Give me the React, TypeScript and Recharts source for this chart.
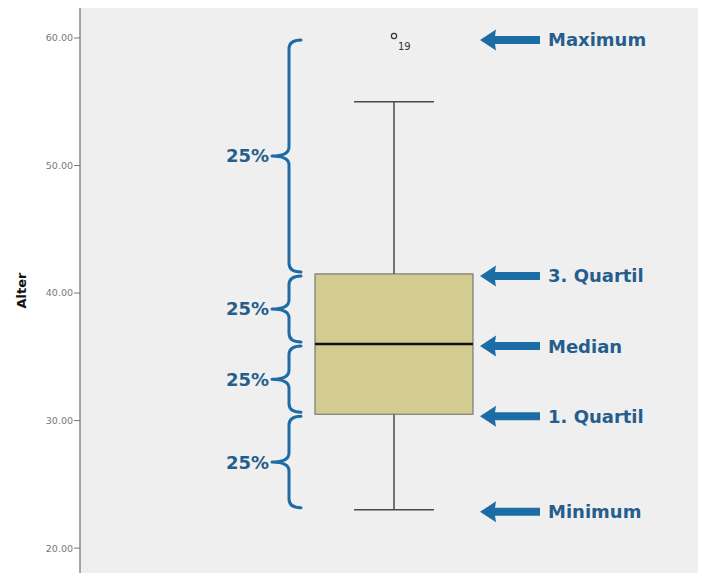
import React from 'react';
import {
  ComposedChart,
  Bar,
  Scatter,
  XAxis,
  YAxis,
  CartesianGrid,
  ReferenceArea,
  ReferenceDot,
} from 'recharts';

// ---- data ----
const categories = ['Alter'];
const minValues = [23];
const q1Values = [30.5];
const medianValues = [36];
const q3Values = [41.5];
const maxValues = [55];
const outlierValues = [60];
const outlierIds = ['19'];
const yTicks = [20, 30, 40, 50, 60];
const yDomain = [18.05, 62.35];
const markerLabels = ['Maximum', '3. Quartil', 'Median', '1. Quartil', 'Minimum'];
const markerValues = [outlierValues[0], q3Values[0], medianValues[0], q1Values[0], minValues[0]];
const braceLabel = '25%';
const braceSpans = [
  [outlierValues[0], q3Values[0]],
  [q3Values[0], medianValues[0]],
  [medianValues[0], q1Values[0]],
  [q1Values[0], minValues[0]],
];

const data = categories.map((name, i) => ({
  name,
  box: [q1Values[i], q3Values[i]],
  q1: q1Values[i],
  q3: q3Values[i],
  min: minValues[i],
  max: maxValues[i],
  median: medianValues[i],
  outlier: outlierValues[i],
  id: outlierIds[i],
}));

const BLUE = '#1c6ca6';
const TEXT_BLUE = '#255e8c';
const LABEL_FONT = '"DejaVu Sans", sans-serif';

const BoxShape = (props: any) => {
  const { x, y, width, height, payload } = props;
  const { q1, q3, min, max, median } = payload;
  const ppu = height / (q3 - q1);
  const toY = (v: number) => y + (q3 - v) * ppu;
  const cx = x + width / 2;
  const cap = 40;
  const wStroke = '#4a4a4a';
  return (
    <g>
      <line x1={cx} x2={cx} y1={toY(max)} y2={y} stroke={wStroke} strokeWidth={1.5} />
      <line x1={cx} x2={cx} y1={y + height} y2={toY(min)} stroke={wStroke} strokeWidth={1.5} />
      <line x1={cx - cap} x2={cx + cap} y1={toY(max)} y2={toY(max)} stroke={wStroke} strokeWidth={1.5} />
      <line x1={cx - cap} x2={cx + cap} y1={toY(min)} y2={toY(min)} stroke={wStroke} strokeWidth={1.5} />
      <rect x={x} y={y} width={width} height={height} fill="#d3cc90" stroke="#666" strokeWidth={1} />
      <line x1={x} x2={x + width} y1={toY(median)} y2={toY(median)} stroke="#111" strokeWidth={2.5} />
    </g>
  );
};

const OutlierShape = (props: any) => {
  const { cx, cy, payload } = props;
  return (
    <g>
      <circle cx={cx} cy={cy - 2} r={2.6} fill="none" stroke="#333" strokeWidth={1.2} />
      <text x={cx + 4} y={cy + 12} fontSize={10} fill="#333" fontFamily="'DejaVu Sans', sans-serif">
        {payload.id}
      </text>
    </g>
  );
};

const makeArrow = (label: string) => (props: any) => {
  const { cx, cy } = props;
  const tip = cx + 86;
  const headEnd = tip + 16;
  const shaftEnd = tip + 60;
  const c = cy + 2;
  const d = `M ${tip} ${c} L ${headEnd} ${c - 10.5} L ${headEnd - 1} ${c - 4} L ${shaftEnd} ${c - 4} L ${shaftEnd} ${c + 4} L ${headEnd - 1} ${c + 4} L ${headEnd} ${c + 10.5} Z`;
  return (
    <g>
      <path d={d} fill={BLUE} />
      <text x={tip + 68} y={c + 6.5} fontSize={18} fontWeight="bold" fill={TEXT_BLUE} fontFamily={LABEL_FONT}>
        {label}
      </text>
    </g>
  );
};

const BraceShape = (props: any) => {
  const { x, y, height } = props;
  const xl = x + 199;
  const xr = xl + 12;
  const xt = xl - 17;
  const y0 = y + 2;
  const y1 = y + height - 2;
  const ym = (y0 + y1) / 2;
  const r = Math.min(9, (y1 - y0) / 5);
  const d = `M ${xr} ${y0} Q ${xl} ${y0} ${xl} ${y0 + r} L ${xl} ${ym - r} Q ${xl} ${ym} ${xt} ${ym} Q ${xl} ${ym} ${xl} ${ym + r} L ${xl} ${y1 - r} Q ${xl} ${y1} ${xr} ${y1}`;
  return (
    <g>
      <path d={d} fill="none" stroke={BLUE} strokeWidth={3} strokeLinecap="round" strokeLinejoin="round" />
      <text x={xt - 3} y={ym + 6.5} fontSize={18} fontWeight="bold" fill={TEXT_BLUE} textAnchor="end" fontFamily={LABEL_FONT}>
        {braceLabel}
      </text>
    </g>
  );
};

const AxisTitle = (props: any) => {
  const vb = props.viewBox || {};
  const cy = vb.y + vb.height / 2;
  const cx = 21;
  return (
    <text
      x={cx}
      y={cy}
      transform={`rotate(-90, ${cx}, ${cy})`}
      textAnchor="middle"
      dominantBaseline="central"
      fontSize={13}
      fontWeight="bold"
      fill="#111"
      fontFamily="'DejaVu Sans', sans-serif"
    >
      Alter
    </text>
  );
};

export default function App() {
  return (
    <div style={{ position: 'absolute', left: 0, top: 0, width: 702, height: 576, background: '#fff' }}>
      <ComposedChart width={702} height={576} data={data} margin={{ top: 8, right: 4, bottom: 3, left: 0 }}>
        <CartesianGrid fill="#f0eff0" horizontal={false} vertical={false} />
        <XAxis dataKey="name" type="category" hide padding={{ left: 10, right: 0 }} />
        <YAxis
          type="number"
          domain={yDomain}
          allowDataOverflow
          ticks={yTicks}
          tickFormatter={(v: number) => v.toFixed(2)}
          width={80}
          tickSize={6}
          tickMargin={1}
          axisLine={{ stroke: '#8a8a8a', strokeWidth: 1.5 }}
          tickLine={{ stroke: '#777' }}
          tick={{ fontSize: 9.5, fill: '#777', fontFamily: "'DejaVu Sans', sans-serif" }}
          label={<AxisTitle />}
        />
        {braceSpans.map((s, i) => (
          <ReferenceArea key={`b${i}`} y1={s[0]} y2={s[1]} shape={BraceShape} />
        ))}
        <Bar dataKey="box" barSize={158} shape={BoxShape} isAnimationActive={false} />
        <Scatter dataKey="outlier" shape={OutlierShape} isAnimationActive={false} />
        {markerValues.map((v, i) => (
          <ReferenceDot key={`m${i}`} x={categories[0]} y={v} shape={makeArrow(markerLabels[i])} />
        ))}
        <ReferenceArea fill="none" stroke="#8a8a8a" strokeWidth={1.5} fillOpacity={0} />
      </ComposedChart>
    </div>
  );
}
